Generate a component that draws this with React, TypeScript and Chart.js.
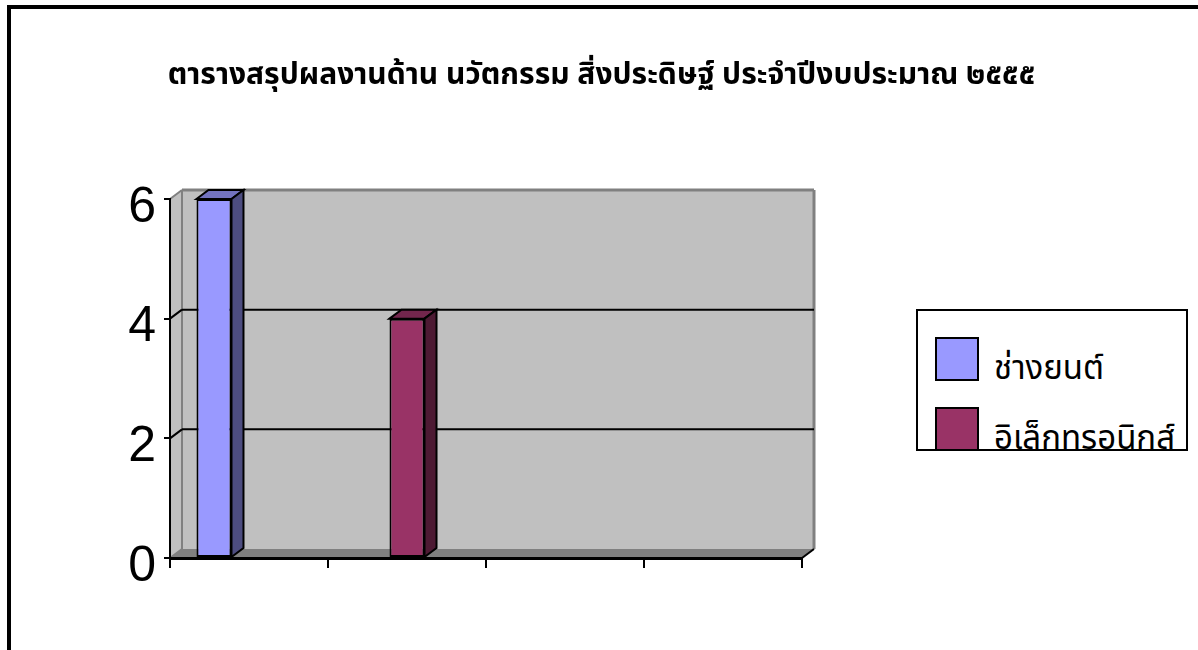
import React, { useEffect, useRef } from 'react';
import { Chart, registerables } from 'chart.js';

Chart.register(...registerables);

const TITLE = 'ตารางสรุปผลงานด้าน นวัตกรรม สิ่งประดิษฐ์ ประจำปีงบประมาณ ๒๕๕๕';
const categories = ['', '', '', ''];
const seriesNames = ['ช่างยนต์', 'อิเล็กทรอนิกส์', ''];
const autoValues = [6, 0, 0, 0];
const electronicsValues = [0, 4, 0, 0];
const thirdValues = [0, 0, 0, 0];
const yTicks = [0, 2, 4, 6];
const seriesColors = ['#9999FF', '#993366', '#FFFFCC'];
const sideColors = ['#4D4D80', '#4D1A33', '#808066'];
const topColors = ['#7373BF', '#73264D', '#BFBF99'];

const DX = 12;
const DY = -9;
const THAI_FONT = "'Noto Sans Thai', Tahoma, 'DejaVu Sans', 'Noto Sans', sans-serif";

function poly(ctx: CanvasRenderingContext2D, pts: number[][], fill?: string, stroke?: string, lw = 2) {
  ctx.beginPath();
  ctx.moveTo(pts[0][0], pts[0][1]);
  for (let i = 1; i < pts.length; i++) ctx.lineTo(pts[i][0], pts[i][1]);
  ctx.closePath();
  if (fill) {
    ctx.fillStyle = fill;
    ctx.fill();
  }
  if (stroke) {
    ctx.strokeStyle = stroke;
    ctx.lineWidth = lw;
    ctx.lineJoin = 'miter';
    ctx.stroke();
  }
}

function line(ctx: CanvasRenderingContext2D, x1: number, y1: number, x2: number, y2: number, color: string, lw = 2) {
  ctx.beginPath();
  ctx.moveTo(x1, y1);
  ctx.lineTo(x2, y2);
  ctx.strokeStyle = color;
  ctx.lineWidth = lw;
  ctx.stroke();
}

const wallPlugin = {
  id: 'wall3d',
  beforeDraw(chart: any) {
    const { ctx, chartArea } = chart;
    const { left, right, top, bottom } = chartArea;
    const ys = chart.scales.y;
    ctx.save();
    ctx.fillStyle = '#C0C0C0';
    ctx.fillRect(left + DX, top + DY, right - left, bottom - top);
    poly(ctx, [[left, top], [left + DX, top + DY], [left + DX, bottom + DY], [left, bottom]], '#C0C0C0');
    poly(ctx, [[left, bottom], [left + DX, bottom + DY], [right + DX, bottom + DY], [right, bottom]], '#808080');
    line(ctx, left + DX, top + DY, left + DX, bottom + DY, '#808080', 2);
    line(ctx, right + DX, top + DY, right + DX, bottom + DY, '#808080', 3);
    yTicks.forEach((v) => {
      const py = ys.getPixelForValue(v);
      const isEdge = v === yTicks[0] || v === yTicks[yTicks.length - 1];
      const col = isEdge ? '#808080' : '#000000';
      if (v !== yTicks[0]) line(ctx, left + DX, py + DY, right + DX, py + DY, col, v === yTicks[yTicks.length - 1] ? 3 : 2);
      line(ctx, left, py, left + DX, py + DY, col, 2);
    });
    line(ctx, right, bottom, right + DX, bottom + DY, '#000000', 2);
    ctx.restore();
  },
};

const bar3dPlugin = {
  id: 'bar3d',
  afterDatasetsDraw(chart: any) {
    const { ctx } = chart;
    ctx.save();
    chart.data.datasets.forEach((_ds: any, di: number) => {
      const meta = chart.getDatasetMeta(di);
      meta.data.forEach((el: any) => {
        const { x, y, base, width } = el.getProps(['x', 'y', 'base', 'width'], true);
        if (Math.abs(base - y) < 1) return;
        const l = x - width / 2;
        const r = x + width / 2;
        poly(ctx, [[l, y], [l + DX, y + DY], [r + DX, y + DY], [r, y]], topColors[di], '#000000', 2);
        poly(ctx, [[r, y], [r + DX, y + DY], [r + DX, base + DY], [r, base]], sideColors[di], '#000000', 2);
      });
    });
    ctx.restore();
  },
};

export default function App() {
  const canvasRef = useRef<HTMLCanvasElement | null>(null);

  useEffect(() => {
    if (!canvasRef.current) return;
    const chart = new Chart(canvasRef.current, {
      type: 'bar',
      data: {
        labels: categories,
        datasets: [
          { label: seriesNames[0], data: autoValues, backgroundColor: seriesColors[0], borderColor: '#000', borderWidth: 2, borderSkipped: false },
          { label: seriesNames[1], data: electronicsValues, backgroundColor: seriesColors[1], borderColor: '#000', borderWidth: 2, borderSkipped: false },
          { label: seriesNames[2], data: thirdValues, backgroundColor: seriesColors[2], borderColor: '#000', borderWidth: 0 },
        ],
      },
      options: {
        responsive: false,
        animation: false,
        devicePixelRatio: 1,
        layout: { padding: { top: 199, right: 396, bottom: 0, left: 0 } },
        datasets: { bar: { categoryPercentage: 0.665, barPercentage: 1 } },
        plugins: {
          legend: { display: false },
          title: { display: false },
          tooltip: { enabled: false },
        },
        scales: {
          x: {
            type: 'category',
            offset: true,
            grid: { offset: true, drawOnChartArea: false, color: '#000', lineWidth: 2, tickLength: 10, tickWidth: 2 },
            border: { color: '#000', width: 3 },
            ticks: { display: true },
            afterFit(s: any) { s.height = 92; },
          },
          y: {
            min: 0,
            max: 6,
            afterBuildTicks(s: any) { s.ticks = yTicks.map((v) => ({ value: v })); },
            ticks: { color: '#000', font: { family: "'Liberation Sans', Arial, sans-serif", size: 50 }, padding: 8, labelOffset: 9 },
            grid: { drawOnChartArea: false, color: '#000', lineWidth: 2, tickLength: 6 },
            border: { color: '#000', width: 2 },
            afterFit(s: any) { s.width = 170; },
          },
        },
      },
      plugins: [wallPlugin, bar3dPlugin],
    } as any);
    return () => chart.destroy();
  }, []);

  return (
    <div style={{ position: 'fixed', left: 0, top: 0, width: 1198, height: 650, overflow: 'hidden', background: '#fff' }}>
      <div style={{ position: 'absolute', left: 7, top: 5, width: 1400, height: 900, border: '4px solid #000', boxSizing: 'border-box' }} />
      <canvas ref={canvasRef} width={1198} height={650} style={{ position: 'absolute', left: 0, top: 0, width: 1198, height: 650 }} />
      <div style={{ position: 'absolute', left: 0, top: 55, width: 1203, textAlign: 'center', fontFamily: THAI_FONT, fontWeight: 'bold', fontSize: 30, color: '#000', whiteSpace: 'nowrap', lineHeight: '40px' }}>
        {TITLE}
      </div>
      <div style={{ position: 'absolute', left: 916, top: 309, width: 272, height: 142, border: '2px solid #000', boxSizing: 'border-box', overflow: 'hidden', background: '#fff', fontFamily: THAI_FONT, fontSize: 33, color: '#000' }}>
        {seriesNames.slice(0, 2).map((name, i) => (
          <div key={i} style={{ position: 'absolute', left: 17, top: 26 + i * 70, height: 44, display: 'flex', alignItems: 'center', whiteSpace: 'nowrap' }}>
            <div style={{ width: 44, height: 44, boxSizing: 'border-box', border: '2px solid #000', background: seriesColors[i], flex: 'none' }} />
            <span style={{ marginLeft: 15, lineHeight: '44px', position: 'relative', top: 10 }}>{name}</span>
          </div>
        ))}
      </div>
    </div>
  );
}
